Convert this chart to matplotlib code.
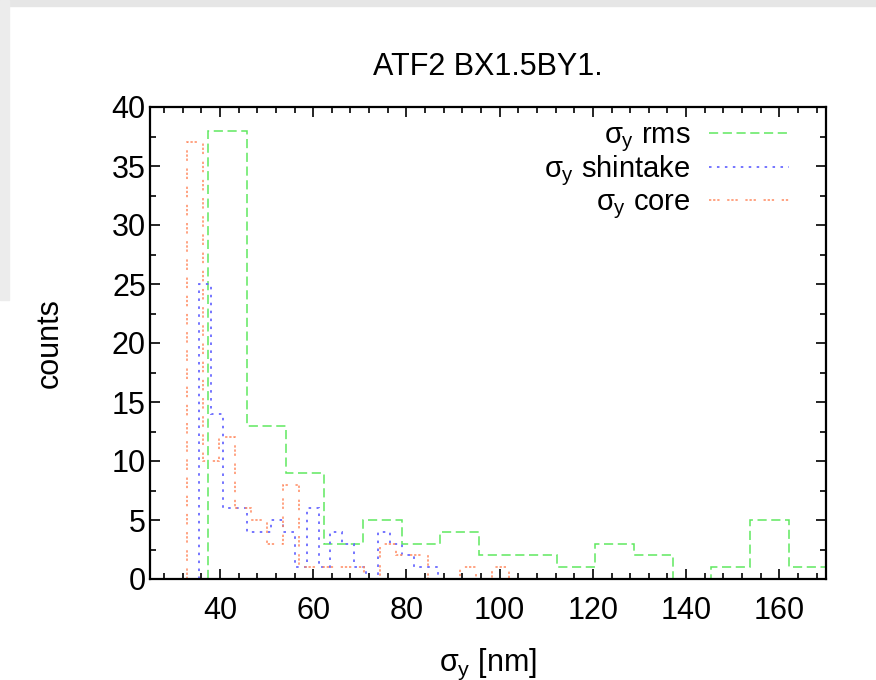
import numpy as np
import matplotlib
matplotlib.use("Agg")
import matplotlib.pyplot as plt
from matplotlib.patches import Rectangle

# histogram counts
rms_range = (37.5, 170.3)
rms_counts = [38, 13, 9, 3, 5, 3, 4, 2, 2, 1, 3, 2, 0, 1, 5, 1]

shintake_range = (35.5, 86.8)
shintake_counts = [25, 14, 6, 6, 4, 4, 5, 4, 1, 6, 1, 4, 3, 1, 0, 4, 3, 2, 1, 1]

core_range = (32.9, 101.9)
core_counts = [37, 10, 12, 6, 5, 3, 8, 1, 1, 1, 1, 0, 3, 2, 2, 0, 0, 1, 0, 1]

labels = [r"$\sigma_y$ rms", r"$\sigma_y$ shintake", r"$\sigma_y$ core"]
x_ticks = [40, 60, 80, 100, 120, 140, 160]
y_ticks = [0, 5, 10, 15, 20, 25, 30, 35, 40]


def edges_for(rng, counts):
    return np.linspace(rng[0], rng[1], len(counts) + 1)


def main():
    plt.rcParams["font.family"] = ["Liberation Sans", "DejaVu Sans"]
    plt.rcParams["mathtext.fontset"] = "custom"
    plt.rcParams["mathtext.rm"] = "Liberation Sans"
    plt.rcParams["mathtext.it"] = "Liberation Sans"
    plt.rcParams["font.size"] = 22

    fig = plt.figure(figsize=(8.76, 6.8), dpi=100)
    # screenshot border (grey strips at top and left)
    fig.patches.append(Rectangle((0, 1 - 6 / 680), 1, 6 / 680, transform=fig.transFigure,
                                 color="#e6e6e6", zorder=-1))
    fig.patches.append(Rectangle((0, 1 - 300 / 680), 9 / 876, 300 / 680, transform=fig.transFigure,
                                 color="#ececec", zorder=-1))

    ax = fig.add_axes([150 / 876, 1 - 579 / 680, 676 / 876, 472 / 680])

    ax.stairs(rms_counts, edges_for(rms_range, rms_counts), baseline=0,
              color="#5fe85f", lw=1.1, linestyle=(0, (6, 3)), label=labels[0])
    ax.stairs(shintake_counts, edges_for(shintake_range, shintake_counts), baseline=0,
              color="#6a6aff", lw=1.3, linestyle=(0, (1.4, 3.0)), label=labels[1])
    ax.stairs(core_counts, edges_for(core_range, core_counts), baseline=0,
              color="#ff8a60", lw=1.1, linestyle=(0, (1.5, 1.2, 1.5, 1.2, 1.5, 5)), label=labels[2])

    ax.set_xlim(25, 170)
    ax.set_ylim(0, 40)
    ax.set_xticks(x_ticks)
    ax.set_yticks(y_ticks)
    ax.set_xticks(np.arange(28, 170, 4), minor=True)
    ax.set_yticks(np.arange(0, 40.1, 2.5), minor=True)
    ax.tick_params(which="both", direction="in", top=True, right=True, width=1.2)
    ax.tick_params(which="major", length=7)
    ax.tick_params(which="minor", length=4)
    ax.tick_params(axis="x", which="major", pad=12, labelsize=22)
    ax.tick_params(axis="y", which="major", pad=3, labelsize=22)
    for s in ax.spines.values():
        s.set_linewidth(1.6)

    ax.set_title("ATF2 BX1.5BY1.", fontsize=22, pad=23)
    ax.set_xlabel(r"$\sigma_y$ [nm]", fontsize=22, labelpad=15)
    ax.set_ylabel("counts", fontsize=22, labelpad=34)

    ax.legend(loc="upper right", bbox_to_anchor=(0.963, 0.995), frameon=False,
              markerfirst=False, handlelength=2.75, handletextpad=0.65,
              labelspacing=0.0, borderaxespad=0.0, fontsize=21)

    fig.savefig("out.png", dpi=100)


if __name__ == "__main__":
    main()
